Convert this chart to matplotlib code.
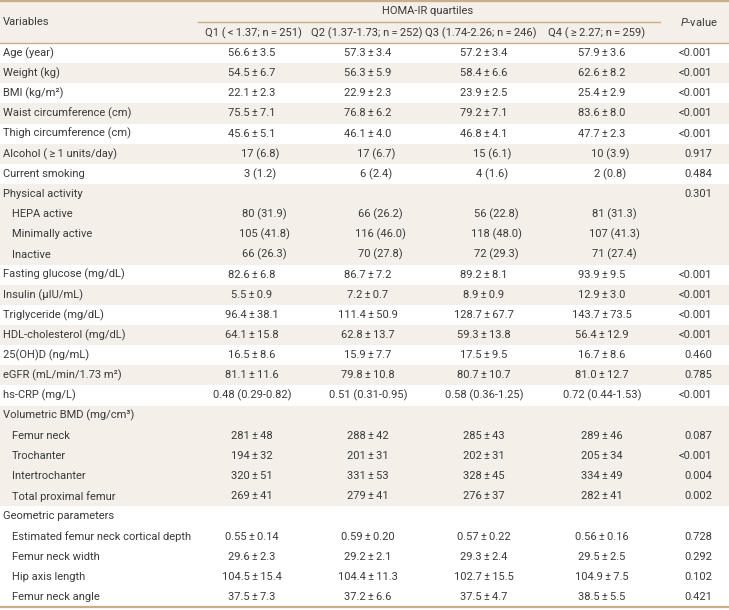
import matplotlib.pyplot as plt
from matplotlib.patches import Rectangle

plt.rcParams['font.family'] = ['Roboto', 'DejaVu Sans']
plt.rcParams['mathtext.fontset'] = 'custom'
plt.rcParams['mathtext.it'] = 'Roboto:italic'
plt.rcParams['mathtext.rm'] = 'Roboto'

group_title = 'HOMA-IR quartiles'
col_labels = ['Q1 (\u2009<\u20091.37; n\u2009=\u2009251)', 'Q2 (1.37-1.73; n\u2009=\u2009252)',
              'Q3 (1.74-2.26; n\u2009=\u2009246)', 'Q4 (\u2009\u2265\u20092.27; n\u2009=\u2009259)']

variables = [
    'Age (year)', 'Weight (kg)', 'BMI (kg/m\u00b2)', 'Waist circumference (cm)',
    'Thigh circumference (cm)', 'Alcohol (\u2009\u2265\u20091 units/day)', 'Current smoking',
    'Physical activity', 'HEPA active', 'Minimally active', 'Inactive',
    'Fasting glucose (mg/dL)', 'Insulin (\u03bcIU/mL)', 'Triglyceride (mg/dL)',
    'HDL-cholesterol (mg/dL)', '25(OH)D (ng/mL)', 'eGFR (mL/min/1.73 m\u00b2)',
    'hs-CRP (mg/L)', 'Volumetric BMD (mg/cm\u00b3)', 'Femur neck', 'Trochanter',
    'Intertrochanter', 'Total proximal femur', 'Geometric parameters',
    'Estimated femur neck cortical depth', 'Femur neck width', 'Hip axis length',
    'Femur neck angle',
]
indented = [False] * 8 + [True] * 3 + [False] * 8 + [True] * 4 + [False] + [True] * 4

q1 = ['56.6\u00b13.5', '54.5\u00b16.7', '22.1\u00b12.3', '75.5\u00b17.1', '45.6\u00b15.1',
      '17 (6.8)', '3 (1.2)', '', '80 (31.9)', '105 (41.8)', '66 (26.3)',
      '82.6\u00b16.8', '5.5\u00b10.9', '96.4\u00b138.1', '64.1\u00b115.8', '16.5\u00b18.6',
      '81.1\u00b111.6', '0.48 (0.29-0.82)', '', '281\u00b148', '194\u00b132', '320\u00b151',
      '269\u00b141', '', '0.55\u00b10.14', '29.6\u00b12.3', '104.5\u00b115.4', '37.5\u00b17.3']
q2 = ['57.3\u00b13.4', '56.3\u00b15.9', '22.9\u00b12.3', '76.8\u00b16.2', '46.1\u00b14.0',
      '17 (6.7)', '6 (2.4)', '', '66 (26.2)', '116 (46.0)', '70 (27.8)',
      '86.7\u00b17.2', '7.2\u00b10.7', '111.4\u00b150.9', '62.8\u00b113.7', '15.9\u00b17.7',
      '79.8\u00b110.8', '0.51 (0.31-0.95)', '', '288\u00b142', '201\u00b131', '331\u00b153',
      '279\u00b141', '', '0.59\u00b10.20', '29.2\u00b12.1', '104.4\u00b111.3', '37.2\u00b16.6']
q3 = ['57.2\u00b13.4', '58.4\u00b16.6', '23.9\u00b12.5', '79.2\u00b17.1', '46.8\u00b14.1',
      '15 (6.1)', '4 (1.6)', '', '56 (22.8)', '118 (48.0)', '72 (29.3)',
      '89.2\u00b18.1', '8.9\u00b10.9', '128.7\u00b167.7', '59.3\u00b113.8', '17.5\u00b19.5',
      '80.7\u00b110.7', '0.58 (0.36-1.25)', '', '285\u00b143', '202\u00b131', '328\u00b145',
      '276\u00b137', '', '0.57\u00b10.22', '29.3\u00b12.4', '102.7\u00b115.5', '37.5\u00b14.7']
q4 = ['57.9\u00b13.6', '62.6\u00b18.2', '25.4\u00b12.9', '83.6\u00b18.0', '47.7\u00b12.3',
      '10 (3.9)', '2 (0.8)', '', '81 (31.3)', '107 (41.3)', '71 (27.4)',
      '93.9\u00b19.5', '12.9\u00b13.0', '143.7\u00b173.5', '56.4\u00b112.9', '16.7\u00b18.6',
      '81.0\u00b112.7', '0.72 (0.44-1.53)', '', '289\u00b146', '205\u00b134', '334\u00b149',
      '282\u00b141', '', '0.56\u00b10.16', '29.5\u00b12.5', '104.9\u00b17.5', '38.5\u00b15.5']
pvalues = ['<0.001', '<0.001', '<0.001', '<0.001', '<0.001', '0.917', '0.484', '0.301',
           '', '', '', '<0.001', '<0.001', '<0.001', '<0.001', '0.460', '0.785', '<0.001',
           '', '0.087', '<0.001', '0.004', '0.002', '', '0.728', '0.292', '0.102', '0.421']

W, H = 729, 610
beige = '#f4efe8'
rule = '#c9ae88'
ink = '#3a3a3a'
fs = 8.0

fig = plt.figure(figsize=(W / 100, H / 100), dpi=100)
ax = fig.add_axes([0, 0, 1, 1])
ax.set_xlim(0, W)
ax.set_ylim(H, 0)
ax.axis('off')

header_top, header_bot = 1, 43
pitch = (607 - header_bot) / len(variables)
col_x = [252, 368, 484, 602]
p_x = 712

# header
ax.add_patch(Rectangle((0, header_top), W, header_bot - header_top, color=beige, lw=0))
ax.axhline(header_top, color=rule, lw=1.6)
ax.axhline(header_bot, color=rule, lw=1.0)
ax.plot([198, 660], [22, 22], color=rule, lw=1.0)
ax.text(3, 22, 'Variables', fontsize=fs, color=ink, va='center')
ax.text(428, 11, group_title, fontsize=fs, color=ink, va='center', ha='center')
for x, lab in zip([253, 367, 481, 597], col_labels):
    ax.text(x, 33, lab, fontsize=fs, color=ink, va='center', ha='center')
ax.text(699, 22, r'$\it{P}$-value', fontsize=fs, color=ink, va='center', ha='center')

# band shading: a non-indented row starts a new group
group = -1
for i, var in enumerate(variables):
    if not indented[i]:
        group += 1
    top = header_bot + i * pitch
    if group % 2 == 1:
        ax.add_patch(Rectangle((0, top), W, pitch, color=beige, lw=0))
    yc = top + pitch / 2
    ax.text(12 if indented[i] else 3, yc, var, fontsize=fs, color=ink, va='center')
    for x, col in zip(col_x, [q1, q2, q3, q4]):
        val = col[i]
        if not val:
            continue
        dx = 0
        if '(' in val and '-' not in val:
            dx = 12 if indented[i] else 8
        val = val.replace('\u00b1', '\u2009\u00b1\u2009')
        ax.text(x + dx, yc, val, fontsize=fs, color=ink, va='center', ha='center')
    if pvalues[i]:
        ax.text(p_x, yc, pvalues[i], fontsize=fs, color=ink, va='center', ha='right')

ax.axhline(607, color=rule, lw=1.6)

fig.savefig('out.png', dpi=100)
